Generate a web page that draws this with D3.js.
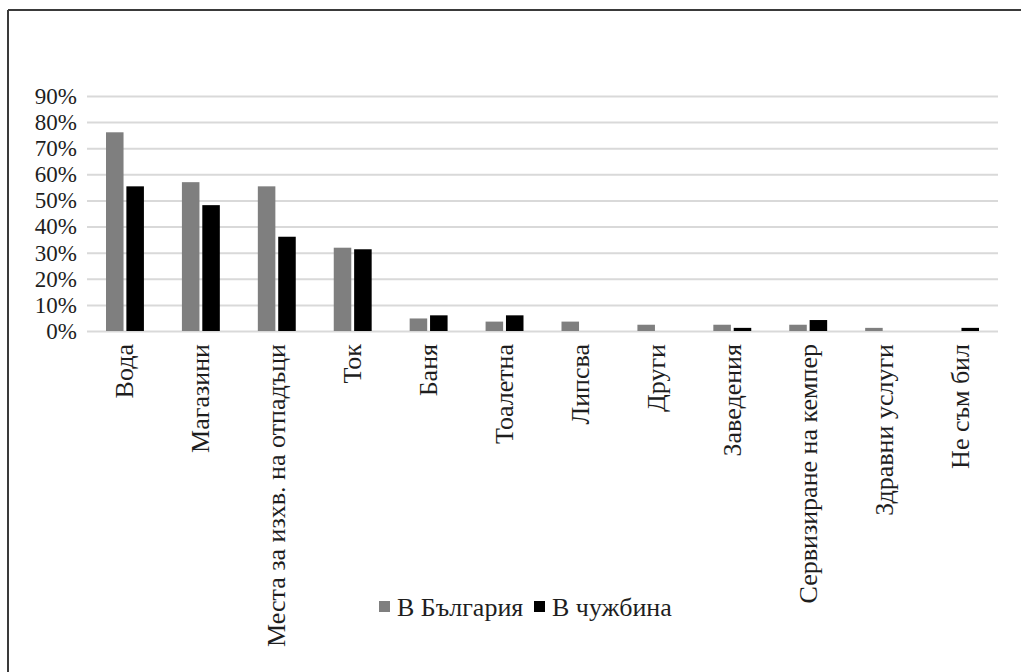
<!DOCTYPE html>
<html>
<head>
<meta charset="utf-8">
<script src="https://cdn.jsdelivr.net/npm/d3@7"></script>
<style>
  body { margin: 0; background: #fff; }
</style>
</head>
<body>
<div id="canvas"></div>
<script>
"use strict"

// canvas size
let svgWidth = 1021;
let svgHeight = 672;

// plot area
let plotLeft = 87;
let plotRight = 998;
let plotTop = 96;     // where 90% sits
let plotBottom = 331; // 0% baseline

let fontFamily = "'Liberation Serif', 'DejaVu Serif', serif";
let fontSize = "26px";
let tickFontSize = "23px"; // y labels sit 26px apart, keep them from colliding
let textColor = "#1e1e1e";

// DATA

let categories = ["Вода", "Магазини", "Места за изхв. на отпадъци", "Ток", "Баня", "Тоалетна",
    "Липсва", "Други", "Заведения", "Сервизиране на кемпер", "Здравни услуги", "Не съм бил"];

let seriesNames = ["В България", "В чужбина"];

let inBulgaria = [0.761, 0.570, 0.554, 0.319, 0.048, 0.036, 0.036, 0.024, 0.024, 0.024, 0.012, 0];
let abroad = [0.554, 0.482, 0.361, 0.313, 0.060, 0.060, 0, 0, 0.012, 0.042, 0, 0.012];

let yTicks = [0, 0.1, 0.2, 0.3, 0.4, 0.5, 0.6, 0.7, 0.8, 0.9];

let seriesColors = ["#7f7f7f", "#000000"];

// rows for the join
let rows = categories.map(function (cat, i) {
    return { cat: cat, values: [inBulgaria[i], abroad[i]] };
});


// CANVAS SETUP

let svg = d3.select("#canvas")
    .append("svg")
    .attr("width", svgWidth)
    .attr("height", svgHeight);

// frame (only left and top edges show in the picture)
svg.append("line")
    .attr("x1", 8).attr("y1", 10)
    .attr("x2", 8).attr("y2", svgHeight)
    .attr("stroke", "#3a3a3a")
    .attr("stroke-width", 2);

svg.append("line")
    .attr("x1", 8).attr("y1", 10)
    .attr("x2", svgWidth).attr("y2", 10)
    .attr("stroke", "#3a3a3a")
    .attr("stroke-width", 2);


// SCALES

let xScale = d3.scaleBand()
    .domain(categories)
    .range([plotLeft, plotRight])
    .padding(0);

let xInner = d3.scaleBand()
    .domain(seriesNames)
    .range([19, xScale.bandwidth() - 19])
    .paddingInner(0.14);

let yScale = d3.scaleLinear()
    .domain([0, 0.9])
    .range([plotBottom, plotTop]);


// GRIDLINES + Y LABELS

let yAxis = d3.axisLeft(yScale)
    .tickValues(yTicks)
    .tickFormat(d3.format(".0%"))
    .tickSize(-(plotRight - plotLeft))
    .tickPadding(10);

let yG = svg.append("g")
    .attr("transform", "translate(" + plotLeft + ",0)")
    .call(yAxis);

yG.select(".domain").remove();
yG.selectAll(".tick line")
    .attr("stroke", "#d9d9d9")
    .attr("stroke-width", 2);
yG.selectAll(".tick text")
    .style("font-family", fontFamily)
    .style("font-size", tickFontSize)
    .attr("fill", textColor);


// BARS

let groups = svg.selectAll(".cat")
    .data(rows)
    .join("g")
    .attr("class", "cat")
    .attr("transform", function (d) {
        return "translate(" + xScale(d.cat) + ",0)";
    });

groups.selectAll("rect")
    .data(function (d) {
        return d.values.map(function (v, j) {
            return { series: seriesNames[j], value: v, idx: j };
        });
    })
    .join("rect")
    .attr("x", function (d) { return xInner(d.series); })
    .attr("width", xInner.bandwidth())
    .attr("y", function (d) { return yScale(d.value); })
    .attr("height", function (d) { return plotBottom - yScale(d.value); })
    .attr("fill", function (d) { return seriesColors[d.idx]; });


// X LABELS (rotated)

let xAxis = d3.axisBottom(xScale)
    .tickSize(0)
    .tickPadding(0);

let xG = svg.append("g")
    .attr("transform", "translate(0," + plotBottom + ")")
    .call(xAxis);

xG.select(".domain").remove();
xG.selectAll(".tick text")
    .style("font-family", fontFamily)
    .style("font-size", fontSize)
    .attr("fill", textColor)
    .attr("text-anchor", "end")
    .attr("dy", null)
    .attr("y", 0)
    .attr("x", -13)
    .attr("dominant-baseline", "central")
    .attr("transform", "rotate(-90)");


// LEGEND

let legend = svg.append("g")
    .attr("transform", "translate(379,601)");

let legendOffsets = [0, 155];

let items = legend.selectAll("g")
    .data(seriesNames)
    .join("g")
    .attr("transform", function (d, i) {
        return "translate(" + legendOffsets[i] + ",0)";
    });

items.append("rect")
    .attr("width", 11)
    .attr("height", 11)
    .attr("fill", function (d, i) { return seriesColors[i]; });

items.append("text")
    .attr("x", 18)
    .attr("y", 15)
    .style("font-family", fontFamily)
    .style("font-size", fontSize)
    .attr("fill", textColor)
    .text(function (d) { return d; });
</script>
</body>
</html>
